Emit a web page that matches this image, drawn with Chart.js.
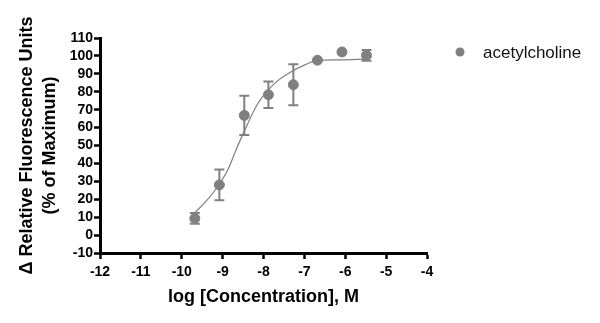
<!DOCTYPE html>
<html>
<head>
<meta charset="utf-8">
<script src="https://cdn.jsdelivr.net/npm/chart.js@4"></script>
<style>
  body { margin: 0; background: #fff; }
</style>
</head>
<body>
<canvas id="chart" width="600" height="323"></canvas>
<script>
// measured points (log M, % of max, +/- error)
let logConc = [-9.68, -9.08, -8.47, -7.88, -7.27, -6.68, -6.08, -5.48];
let response = [9.3, 28, 66.8, 78.3, 83.9, 97.6, 102.2, 100.3];
let errBar = [3, 8.6, 11, 7.4, 11.5, 0, 0, 3];

// fitted curve
let fitX = [-9.68, -9.43, -9.11, -8.86, -8.7, -8.45, -8.13, -7.72, -7.31, -6.99, -6.7, -6.13, -5.48];
let fitY = [12.6, 18.2, 27.4, 37, 46, 59, 73.7, 84.8, 91.3, 95, 97.4, 97.8, 98.2];

let seriesName = "acetylcholine";
let grey = "#808080";
let fontFam = "'Liberation Sans', Arial, sans-serif";

let points = logConc.map((x, i) => ({ x: x, y: response[i] }));
let curve = fitX.map((x, i) => ({ x: x, y: fitY[i] }));

let errorBars = {
  id: "errorBars",
  afterDatasetsDraw(chart) {
    let ctx = chart.ctx;
    let meta = chart.getDatasetMeta(0);
    let yScale = chart.scales.y;
    ctx.save();
    ctx.strokeStyle = grey;
    ctx.lineWidth = 2;
    meta.data.forEach((pt, i) => {
      if (!errBar[i]) return;
      let top = yScale.getPixelForValue(response[i] + errBar[i]);
      let bot = yScale.getPixelForValue(response[i] - errBar[i]);
      ctx.beginPath();
      ctx.moveTo(pt.x, top);
      ctx.lineTo(pt.x, bot);
      ctx.moveTo(pt.x - 5, top);
      ctx.lineTo(pt.x + 5, top);
      ctx.moveTo(pt.x - 5, bot);
      ctx.lineTo(pt.x + 5, bot);
      ctx.stroke();
    });
    ctx.restore();
  }
};

let sideLegend = {
  id: "sideLegend",
  afterDraw(chart) {
    let ctx = chart.ctx;
    ctx.save();
    ctx.fillStyle = grey;
    ctx.beginPath();
    ctx.arc(460, 52, 4.5, 0, Math.PI * 2);
    ctx.fill();
    ctx.fillStyle = "#111";
    ctx.font = "17px " + fontFam;
    ctx.textBaseline = "middle";
    ctx.fillText(seriesName, 483, 53);
    ctx.restore();
  }
};

new Chart(document.getElementById("chart"), {
  type: "scatter",
  data: {
    datasets: [
      {
        label: seriesName,
        data: points,
        backgroundColor: grey,
        borderColor: grey,
        pointRadius: 5,
        pointHoverRadius: 5
      },
      {
        label: "fit",
        data: curve,
        showLine: true,
        borderColor: grey,
        borderWidth: 1.2,
        pointRadius: 0,
        cubicInterpolationMode: "monotone",
        fill: false
      }
    ]
  },
  options: {
    responsive: false,
    animation: false,
    layout: { padding: { left: 0, top: 38, right: 173, bottom: 0 } },
    plugins: {
      legend: { display: false },
      tooltip: { enabled: false }
    },
    scales: {
      x: {
        type: "linear",
        min: -12,
        max: -4,
        ticks: {
          stepSize: 1,
          autoSkip: false,
          maxRotation: 0,
          color: "#000",
          padding: 5,
          font: { family: fontFam, size: 14, weight: "bold" }
        },
        grid: {
          drawOnChartArea: false,
          tickLength: 6,
          tickWidth: 2.5,
          tickColor: "#000"
        },
        border: { display: true, color: "#000", width: 3 },
        title: {
          display: true,
          text: "log [Concentration], M",
          color: "#000",
          padding: { top: 0, bottom: 15.5 },
          font: { family: fontFam, size: 18, weight: "bold" }
        },
        afterFit(scale) {
          scale.height = 70;
        }
      },
      y: {
        min: -10,
        max: 110,
        ticks: {
          stepSize: 10,
          autoSkip: false,
          color: "#000",
          padding: 1,
          font: { family: fontFam, size: 14, weight: "bold", lineHeight: 1 }
        },
        grid: {
          drawOnChartArea: false,
          tickLength: 6,
          tickWidth: 2.5,
          tickColor: "#000"
        },
        border: { display: true, color: "#000", width: 3 },
        title: {
          display: true,
          text: ["\u0394 Relative Fluorescence Units", "(% of Maximum)"],
          color: "#000",
          padding: { top: 15.3, bottom: 0 },
          font: { family: fontFam, size: 18, weight: "bold", lineHeight: 1.3 }
        },
        afterFit(scale) {
          scale.width = 100;
        }
      }
    }
  },
  plugins: [errorBars, sideLegend]
});
</script>
</body>
</html>
